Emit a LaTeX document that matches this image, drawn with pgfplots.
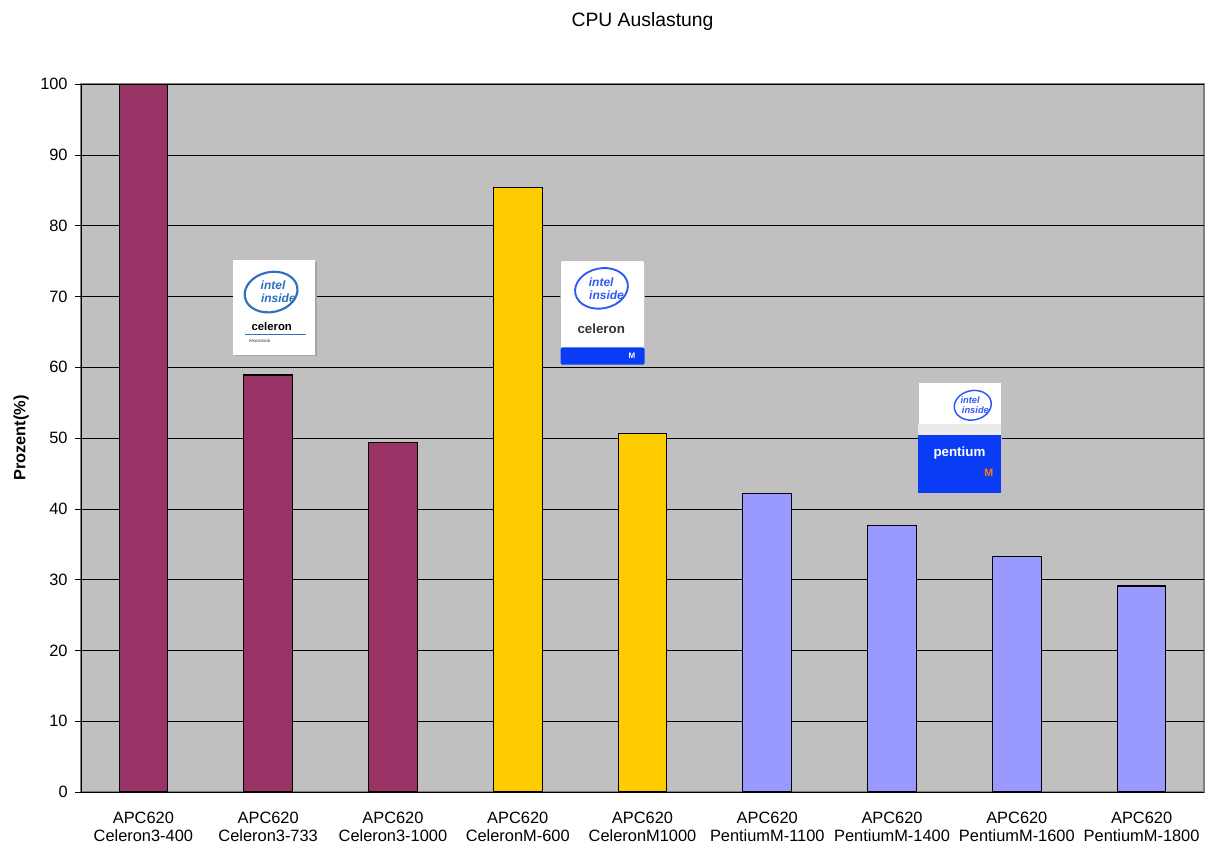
\documentclass[border=0pt]{standalone}
\usepackage{pgfplots}
\pgfplotsset{compat=1.18}
\usepackage{fontspec}
\setmainfont{Liberation Sans}
\definecolor{plum}{HTML}{993366}
\definecolor{gold}{HTML}{FFCC00}
\definecolor{lav}{HTML}{9999FF}
\definecolor{silverbg}{HTML}{C0C0C0}
\definecolor{intelblue}{HTML}{2F6FC0}
\definecolor{mblue}{HTML}{0A3CF5}
\begin{document}
\begin{tikzpicture}
\useasboundingbox (0,0) rectangle (907.5pt,636.75pt);
\begin{axis}[
  at={(60.75pt,42.75pt)}, anchor=south west,
  scale only axis, width=842.25pt, height=531pt,
  xmin=-0.5, xmax=8.5, ymin=0, ymax=100,
  ytick={0,10,...,100},
  xtick={0,...,8},
  xticklabels={{APC620\\Celeron3-400},{APC620\\Celeron3-733},{APC620\\Celeron3-1000},{APC620\\CeleronM-600},{APC620\\CeleronM1000},{APC620\\PentiumM-1100},{APC620\\PentiumM-1400},{APC620\\PentiumM-1600},{APC620\\PentiumM-1800}},
  xticklabel style={align=center, font=\fontsize{12.3}{13.5}\selectfont, yshift=-7pt},
  yticklabel style={font=\fontsize{12.3}{14}\selectfont, xshift=-2pt},
  /pgf/number format/assume math mode=true,
  x tick style={draw=none},
  minor xtick={-0.5,0.5,...,8.5},
  minor tick length=4.5pt,
  major tick length=4.5pt,
  tick align=outside,
  tick style={black, thin},
  ymajorgrids, grid style={black, thin},
  axis background/.style={fill=silverbg, draw=gray, line width=1pt},
  axis x line*=bottom, axis y line*=left,
  axis line style={black, thin, -},
  ybar, bar width=0.39,
  title={CPU Auslastung},
  title style={font=\fontsize{14.5}{16}\selectfont, at={(axis description cs:0.5,1)}, anchor=center, yshift=40.5pt},
  ylabel={Prozent(\%)},
  ylabel style={font=\bfseries\fontsize{12.3}{14}\selectfont, at={(axis description cs:-0.0534,0.5)}, anchor=center},
  clip=false,
]
\addplot[fill=plum, draw=black, line width=0.8pt, bar shift=0pt] coordinates {(0,99.9) (1,58.9) (2,49.3)};
\addplot[fill=gold, draw=black, line width=0.8pt, bar shift=0pt] coordinates {(3,85.4) (4,50.7)};
\addplot[fill=lav, draw=black, line width=0.8pt, bar shift=0pt] coordinates {(5,42.1) (6,37.7) (7,33.2) (8,29.1)};

% Logo 1: intel inside celeron processor
\begin{scope}[shift={(axis cs:1.05,68.4)}]
  \fill[gray!70] (-29.75pt,-36.5pt) rectangle (31.75pt,34.5pt);
  \fill[white] (-30.75pt,-35.5pt) rectangle (30.75pt,35.5pt);
  \draw[intelblue, line width=1.6pt, rotate=12] (0pt,12pt) ellipse (20pt and 15pt);
  \node[intelblue, font=\bfseries\itshape\fontsize{9}{8}\selectfont] at (-1pt,17pt) {intel};
  \node[intelblue, font=\bfseries\itshape\fontsize{9}{8}\selectfont] at (3pt,7pt) {inside};
  \node[font=\bfseries\fontsize{8.5}{8}\selectfont] at (-2pt,-14pt) {celeron};
  \draw[intelblue, line width=1pt] (-22pt,-20pt) -- (24pt,-20pt);
  \node[font=\fontsize{2.5}{3}\selectfont] at (-11pt,-25pt) {PROCESSOR};
\end{scope}

% Logo 2: intel inside celeron M
\begin{scope}[shift={(axis cs:3.68,67.7)}]
  \fill[white, rounded corners=1.5pt, draw=gray!60] (-31.5pt,-39pt) rectangle (31.5pt,39pt);
  \fill[mblue, rounded corners=1.5pt] (-31.5pt,-39pt) rectangle (31.5pt,-26pt);
  \draw[mblue!85, line width=1.4pt, rotate=12] (3pt,18pt) ellipse (20pt and 15pt);
  \node[mblue!85, font=\bfseries\itshape\fontsize{9}{8}\selectfont] at (-1pt,23pt) {intel};
  \node[mblue!85, font=\bfseries\itshape\fontsize{9}{8}\selectfont] at (3pt,13pt) {inside};
  \node[black!80, font=\bfseries\fontsize{10}{9}\selectfont] at (-1pt,-12pt) {celeron};
  \node[white, font=\bfseries\fontsize{6}{6}\selectfont] at (22pt,-32.5pt) {M};
\end{scope}

% Logo 3: intel inside pentium M
\begin{scope}[shift={(axis cs:6.54,50.1)}]
  \fill[white, draw=gray!50] (-31pt,-41.5pt) rectangle (31pt,41.5pt);
  \fill[black!8] (-31pt,2pt) rectangle (31pt,10pt);
  \fill[mblue] (-31pt,-41.5pt) rectangle (31pt,2pt);
  \draw[mblue!85, line width=1.1pt, rotate around={12:(10pt,24pt)}] (10pt,24pt) ellipse (14pt and 11pt);
  \node[mblue!85, font=\bfseries\itshape\fontsize{7}{6}\selectfont] at (8pt,28pt) {intel};
  \node[mblue!85, font=\bfseries\itshape\fontsize{7}{6}\selectfont] at (12pt,20.5pt) {inside};
  \node[white, font=\bfseries\fontsize{10}{9}\selectfont] at (0pt,-12pt) {pentium};
  \node[orange, font=\bfseries\fontsize{8}{8}\selectfont] at (22pt,-27pt) {M};
\end{scope}
\end{axis}
\end{tikzpicture}
\end{document}
